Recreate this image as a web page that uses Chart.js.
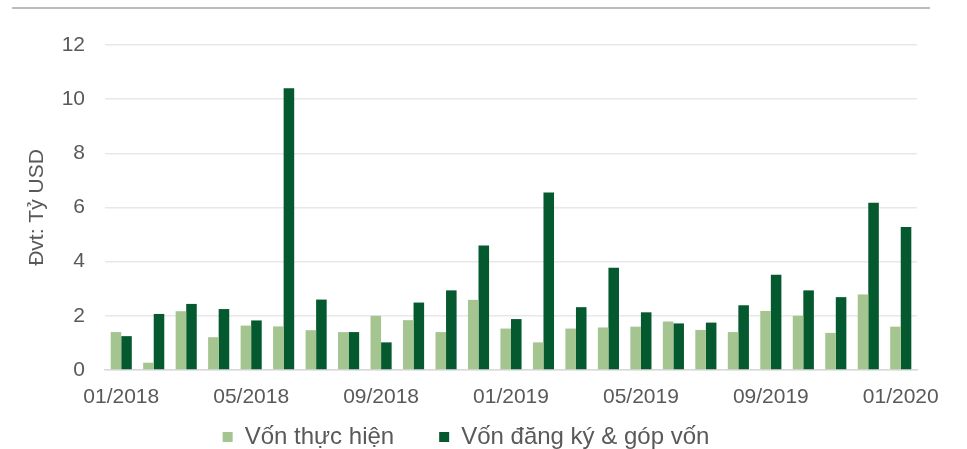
<!DOCTYPE html>
<html>
<head>
<meta charset="utf-8">
<script src="https://cdn.jsdelivr.net/npm/chart.js@4.4.1/dist/chart.umd.min.js"></script>
<style>
  html, body { margin: 0; padding: 0; background: #fff; }
  #khung { width: 967px; height: 449px; position: relative; }
</style>
</head>
<body>
<div id="khung"><canvas id="bieu-do"></canvas></div>
<script>
// Thang 01/2018 -> 01/2020
const thang = [
  '01/2018', '02/2018', '03/2018', '04/2018', '05/2018', '06/2018', '07/2018',
  '08/2018', '09/2018', '10/2018', '11/2018', '12/2018', '01/2019', '02/2019',
  '03/2019', '04/2019', '05/2019', '06/2019', '07/2019', '08/2019', '09/2019',
  '10/2019', '11/2019', '12/2019', '01/2020'
];

// Đvt: tỷ USD
const vonThucHien = [
  1.40, 0.27, 2.17, 1.21, 1.64, 1.61, 1.47, 1.40, 2.00, 1.84, 1.40, 2.59, 1.53,
  1.02, 1.53, 1.57, 1.60, 1.79, 1.48, 1.40, 2.18, 2.00, 1.37, 2.79, 1.60
];
const vonDangKy = [
  1.25, 2.07, 2.44, 2.25, 1.83, 10.40, 2.60, 1.40, 1.02, 2.49, 2.94, 4.60, 1.88,
  6.55, 2.32, 3.78, 2.13, 1.72, 1.75, 2.39, 3.52, 2.94, 2.69, 6.18, 5.28
];

const nhanTrucY = [0, 2, 4, 6, 8, 10, 12];

const mauChu = '#595959';
const phongChu = "'Liberation Sans', Arial, sans-serif";

// Duong ke ngang phia tren cung
const duongKeTren = {
  id: 'duongKeTren',
  beforeDraw(chart) {
    const ctx = chart.ctx;
    ctx.save();
    ctx.strokeStyle = '#a6a6a6';
    ctx.lineWidth = 1.5;
    ctx.beginPath();
    ctx.moveTo(12, 8);
    ctx.lineTo(930, 8);
    ctx.stroke();
    ctx.restore();
  }
};

// Chu thich: giu khoang cach rong giua hai muc (padding 45)
// nhung keo hang chu len sat duoi truc x
const doiChuThich = {
  id: 'doiChuThich',
  afterLayout(chart) {
    if (chart.legend) chart.legend.top -= 30;
  }
};

new Chart(document.getElementById('bieu-do'), {
  type: 'bar',
  data: {
    labels: thang,
    datasets: [
      {
        label: 'Vốn thực hiện',
        data: vonThucHien,
        backgroundColor: '#A4C490',
        barPercentage: 1,
        categoryPercentage: 0.65
      },
      {
        label: 'Vốn đăng ký & góp vốn',
        data: vonDangKy,
        backgroundColor: '#04592E',
        barPercentage: 1,
        categoryPercentage: 0.65
      }
    ]
  },
  options: {
    responsive: true,
    maintainAspectRatio: false,
    animation: false,
    layout: { padding: { left: 15, right: 50, top: 45, bottom: 0 } },
    scales: {
      x: {
        grid: { display: false },
        border: { display: true, color: '#d9d9d9', width: 1.5 },
        ticks: {
          autoSkip: false,
          maxRotation: 0,
          minRotation: 0,
          padding: 7,
          color: mauChu,
          font: { family: phongChu, size: 21 },
          callback: (v, i) => (i % 4 === 0 ? thang[i] : '')
        },
        afterFit: s => { s.height = 40; }
      },
      y: {
        min: 0,
        max: 12,
        afterBuildTicks: s => { s.ticks = nhanTrucY.map(v => ({ value: v })); },
        grid: { color: '#e8e8e8', lineWidth: 1.5, drawTicks: false },
        border: { display: false },
        ticks: {
          padding: 20,
          color: mauChu,
          font: { family: phongChu, size: 21 }
        },
        title: {
          display: true,
          text: 'Đvt: Tỷ USD',
          color: mauChu,
          font: { family: phongChu, size: 21 },
          padding: { top: 10, bottom: 0 }
        },
        afterFit: s => { s.width = 90; }
      }
    },
    plugins: {
      legend: {
        position: 'bottom',
        maxHeight: 39,
        labels: {
          boxWidth: 10,
          boxHeight: 10,
          padding: 45,
          color: mauChu,
          font: { family: phongChu, size: 24 }
        }
      },
      tooltip: { enabled: false }
    }
  },
  plugins: [duongKeTren, doiChuThich]
});
</script>
</body>
</html>
